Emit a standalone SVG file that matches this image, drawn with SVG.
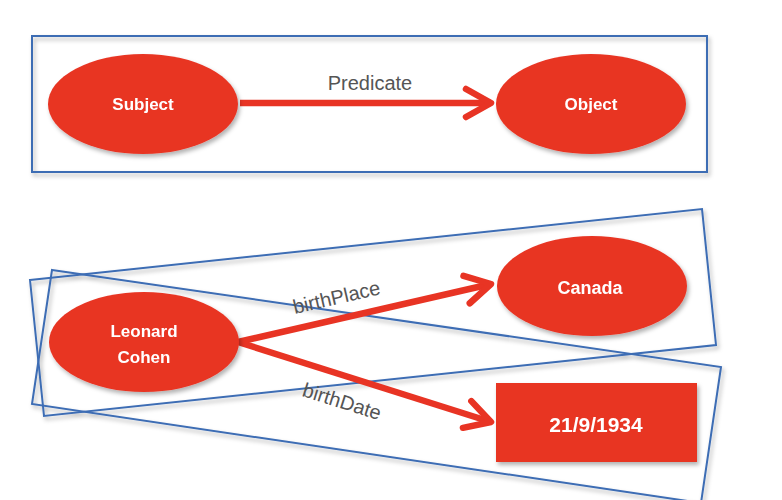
<svg xmlns="http://www.w3.org/2000/svg" width="782" height="500" viewBox="0 0 782 500">
<style>
.frame{fill:none;stroke:#3E6DB4;stroke-width:2}
.node{fill:#E83424}
.nl{font-family:"Liberation Sans",Arial,sans-serif;font-weight:bold;font-size:17px;fill:#fff;text-anchor:middle}
.el{font-family:"Liberation Sans",Arial,sans-serif;font-size:20px;fill:#555;text-anchor:middle}
.edge{stroke:#E83424;stroke-width:6.5;fill:none}
</style>
<defs>
<filter id="sh" x="-10%" y="-10%" width="125%" height="130%">
<feDropShadow dx="2" dy="3" stdDeviation="2" flood-color="#000" flood-opacity="0.3"/>
</filter>
<marker id="arr" markerUnits="userSpaceOnUse" markerWidth="40" markerHeight="40" viewBox="-32 -20 40 40" refX="0" refY="0" orient="auto">
<path d="M -25 -14 L 0 0 L -25 14" fill="none" stroke="#E83424" stroke-width="6.5" stroke-linecap="round" stroke-linejoin="round"/>
</marker>
</defs>
<rect width="782" height="500" fill="#fff"/>
<g id="frames" filter="url(#sh)">
<rect id="frame-top" class="frame" x="32" y="36" width="675" height="136"/>
<polygon id="frame-place" class="frame" points="30,280 702,209 716,345 44,416"/>
<polygon id="frame-date" class="frame" points="52,270 721,367 701,503 32,404"/>
</g>
<g id="connectors">
<line class="edge" x1="240" y1="103" x2="491" y2="103" marker-end="url(#arr)"/>
<line class="edge" x1="238" y1="342" x2="491" y2="284" marker-end="url(#arr)"/>
<line class="edge" x1="238" y1="342" x2="491" y2="422" marker-end="url(#arr)"/>
<text class="el" x="370" y="90">Predicate</text>
<text class="el" transform="translate(338,304) rotate(-13)">birthPlace</text>
<text class="el" transform="translate(340,408) rotate(17.5)">birthDate</text>
</g>
<g id="subject" filter="url(#sh)">
<ellipse class="node" cx="143" cy="104" rx="95" ry="50"/>
<text class="nl" x="143" y="110">Subject</text>
</g>
<g id="object" filter="url(#sh)">
<ellipse class="node" cx="591" cy="104" rx="95" ry="50"/>
<text class="nl" x="591" y="110">Object</text>
</g>
<g id="leonard" filter="url(#sh)">
<ellipse class="node" cx="144" cy="342" rx="95" ry="50"/>
<text class="nl" x="144" y="337">Leonard</text>
<text class="nl" x="144" y="363">Cohen</text>
</g>
<g id="canada" filter="url(#sh)">
<ellipse class="node" cx="592" cy="286" rx="95" ry="50"/>
<text class="nl" x="590" y="294" style="font-size:18px">Canada</text>
</g>
<g id="date" filter="url(#sh)">
<rect class="node" x="496" y="383" width="201" height="79"/>
<text class="nl" x="596" y="432" style="font-size:21px">21/9/1934</text>
</g>
</svg>
